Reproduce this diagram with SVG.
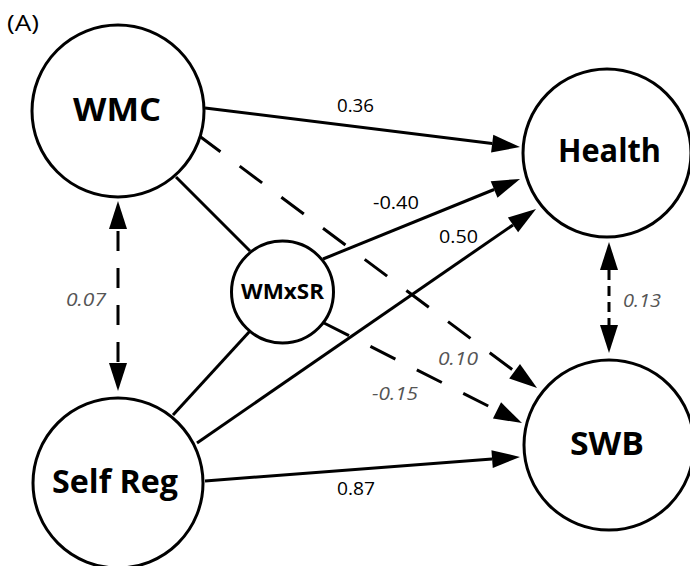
<svg xmlns="http://www.w3.org/2000/svg" width="690" height="566" viewBox="0 0 690 566">
<style>
.node circle{fill:#fff;stroke:#000;stroke-width:3}
.nt{font-family:"Open Sans","Liberation Sans",sans-serif;font-weight:bold;fill:#000;text-anchor:middle}
.lab{font-family:"Open Sans","Liberation Sans",sans-serif;font-size:18px;fill:#000}
.ital{font-family:"Open Sans","Liberation Sans",sans-serif;font-size:18px;font-style:italic;fill:#555}
.c line{stroke:#000;stroke-width:3;fill:none}
.dash{stroke-dasharray:28 24}
</style>
<defs>
<marker id="ah" markerUnits="userSpaceOnUse" markerWidth="30" markerHeight="20" refX="0" refY="9" orient="auto-start-reverse" overflow="visible">
<path d="M0,0 L28,9 L0,18 z" fill="#000"/>
</marker>
</defs>
<rect width="690" height="566" fill="#fff"/>
<text x="7" y="31" font-family="Open Sans, Liberation Sans, sans-serif" font-size="22" fill="#000" textLength="32" lengthAdjust="spacingAndGlyphs">(A)</text>
<g id="connectors" class="c">
<line x1="205" y1="108" x2="492.2" y2="143.6" marker-end="url(#ah)"/>
<line x1="323" y1="259" x2="494.1" y2="189.5" marker-end="url(#ah)"/>
<line x1="197" y1="443" x2="513" y2="224.9" marker-end="url(#ah)"/>
<line x1="205" y1="481" x2="492.1" y2="459.1" marker-end="url(#ah)"/>
<line class="dash" x1="198" y1="135" x2="514.6" y2="371.3" marker-end="url(#ah)"/>
<line class="dash" x1="324" y1="323" x2="497" y2="410.4" marker-end="url(#ah)"/>
<line x1="176" y1="177" x2="250" y2="251"/>
<line x1="173" y1="415" x2="250" y2="331"/>
<line x1="118" y1="229" x2="118" y2="363" style="stroke-dasharray:20 17;stroke-dashoffset:-2" marker-start="url(#ah)" marker-end="url(#ah)"/>
<line x1="609" y1="270" x2="609" y2="325" style="stroke-dasharray:10 6" marker-start="url(#ah)" marker-end="url(#ah)"/>
</g>
<g id="WMC" class="node"><circle cx="118" cy="111" r="86"/><text class="nt" x="117" y="121" font-size="32" textLength="88" lengthAdjust="spacingAndGlyphs">WMC</text></g>
<g id="Health" class="node"><circle cx="607" cy="153" r="84"/><text class="nt" x="609.5" y="162" font-size="32" textLength="103" lengthAdjust="spacingAndGlyphs">Health</text></g>
<g id="SelfReg" class="node"><circle cx="118" cy="483" r="85"/><text class="nt" x="115" y="493" font-size="32" textLength="126" lengthAdjust="spacingAndGlyphs">Self Reg</text></g>
<g id="SWB" class="node"><circle cx="609" cy="445" r="85"/><text class="nt" x="607" y="455" font-size="32" textLength="74" lengthAdjust="spacingAndGlyphs">SWB</text></g>
<g id="WMxSR" class="node"><circle cx="282.5" cy="292" r="51"/><text class="nt" x="282.5" y="299" font-size="22" textLength="83" lengthAdjust="spacingAndGlyphs">WMxSR</text></g>
<g id="labels">
<text class="lab" x="337" y="112" textLength="37" lengthAdjust="spacingAndGlyphs">0.36</text>
<text class="lab" x="373" y="209" textLength="46" lengthAdjust="spacingAndGlyphs">-0.40</text>
<text class="lab" x="439" y="243" textLength="39" lengthAdjust="spacingAndGlyphs">0.50</text>
<text class="lab" x="337" y="495" textLength="38" lengthAdjust="spacingAndGlyphs">0.87</text>
<text class="ital" x="438" y="365" textLength="40" lengthAdjust="spacingAndGlyphs">0.10</text>
<text class="ital" x="372" y="400" textLength="46" lengthAdjust="spacingAndGlyphs">-0.15</text>
<text class="ital" x="66" y="306" textLength="40" lengthAdjust="spacingAndGlyphs">0.07</text>
<text class="ital" x="623" y="307" textLength="38" lengthAdjust="spacingAndGlyphs">0.13</text>
</g>
</svg>
